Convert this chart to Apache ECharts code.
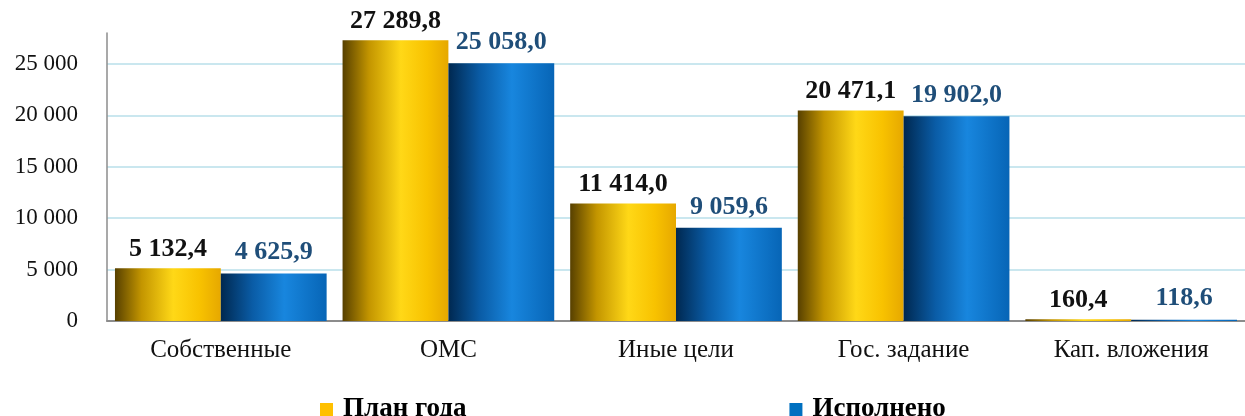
<!DOCTYPE html>
<html>
<head>
<meta charset="utf-8">
<title>План года / Исполнено</title>
<script src="https://cdn.jsdelivr.net/npm/echarts@6/dist/echarts.min.js"></script>
<style>
  html, body { margin: 0; padding: 0; background: #fff; }
  #chart { width: 1245px; height: 416px; }
</style>
</head>
<body>
<div id="chart"></div>
<script>
// данные
const categories = ['Собственные', 'ОМС', 'Иные цели', 'Гос. задание', 'Кап. вложения'];
const planValues = [5132.4, 27289.8, 11414.0, 20471.1, 160.4];
const doneValues = [4625.9, 25058.0, 9059.6, 19902.0, 118.6];
const seriesNames = ['План года', 'Исполнено'];

const serif = "'Times New Roman', 'Liberation Serif', serif";

// 27289.8 -> "27 289,8"
const fmt = (v, digits) => {
  const parts = v.toFixed(digits).split('.');
  const intPart = parts[0].replace(/\B(?=(\d{3})+(?!\d))/g, ' ');
  return parts.length > 1 ? intPart + ',' + parts[1] : intPart;
};

const yellowGrad = {
  type: 'linear', x: 0, y: 0, x2: 1, y2: 0,
  colorStops: [
    {offset: 0, color: '#574000'},
    {offset: 0.25, color: '#c39500'},
    {offset: 0.55, color: '#ffd817'},
    {offset: 0.8, color: '#f8c200'},
    {offset: 1, color: '#e6a800'}
  ]
};
const blueGrad = {
  type: 'linear', x: 0, y: 0, x2: 1, y2: 0,
  colorStops: [
    {offset: 0, color: '#002850'},
    {offset: 0.3, color: '#0a5ca6'},
    {offset: 0.6, color: '#1886de'},
    {offset: 1, color: '#0765b6'}
  ]
};

const myChart = echarts.init(document.getElementById('chart'));
const option = {
  animation: false,
  legend: {
    left: 315,
    top: 391,
    itemGap: 323,
    itemWidth: 13,
    itemHeight: 13,
    icon: 'rect',
    textStyle: {
      fontFamily: serif,
      fontSize: 27,
      fontWeight: 'bold',
      color: '#000',
      padding: [0, 0, 0, 5]
    },
    data: [
      {name: seriesNames[0], itemStyle: {color: '#ffc000'}},
      {name: seriesNames[1], itemStyle: {color: '#0070c0'}}
    ]
  },
  grid: {
    left: 107,
    right: -7,
    top: 33,
    bottom: 95,
    containLabel: false
  },
  xAxis: {
    type: 'category',
    data: categories,
    axisLine: {
      show: true,
      lineStyle: {color: '#8c8c8c', width: 2}
    },
    axisTick: {show: false},
    axisLabel: {
      margin: 17,
      fontFamily: serif,
      fontSize: 25,
      color: '#111'
    },
    splitLine: {show: false}
  },
  yAxis: {
    type: 'value',
    min: 0,
    max: 28000,
    interval: 5000,
    axisLine: {
      show: true,
      lineStyle: {color: '#8c8c8c', width: 1.5}
    },
    axisTick: {show: false},
    axisLabel: {
      margin: 29,
      fontFamily: serif,
      fontSize: 23,
      color: '#111',
      showMaxLabel: false,
      formatter: (v) => fmt(v, 0)
    },
    splitLine: {
      show: true,
      showMaxLine: false,
      lineStyle: {color: '#b9dfea', width: 1.5}
    }
  },
  series: [
    {
      name: seriesNames[0],
      type: 'bar',
      barGap: '0%',
      barCategoryGap: '7%',
      itemStyle: {color: yellowGrad},
      label: {
        show: true,
        position: 'top',
        distance: 6,
        fontFamily: serif,
        fontSize: 26,
        fontWeight: 'bold',
        color: '#111',
        formatter: (p) => fmt(p.value, 1)
      },
      data: planValues
    },
    {
      name: seriesNames[1],
      type: 'bar',
      itemStyle: {color: blueGrad},
      label: {
        show: true,
        position: 'top',
        distance: 8,
        fontFamily: serif,
        fontSize: 26,
        fontWeight: 'bold',
        color: '#1f4e79',
        formatter: (p) => fmt(p.value, 1)
      },
      data: doneValues
    }
  ]
};
myChart.setOption(option);
</script>
</body>
</html>
